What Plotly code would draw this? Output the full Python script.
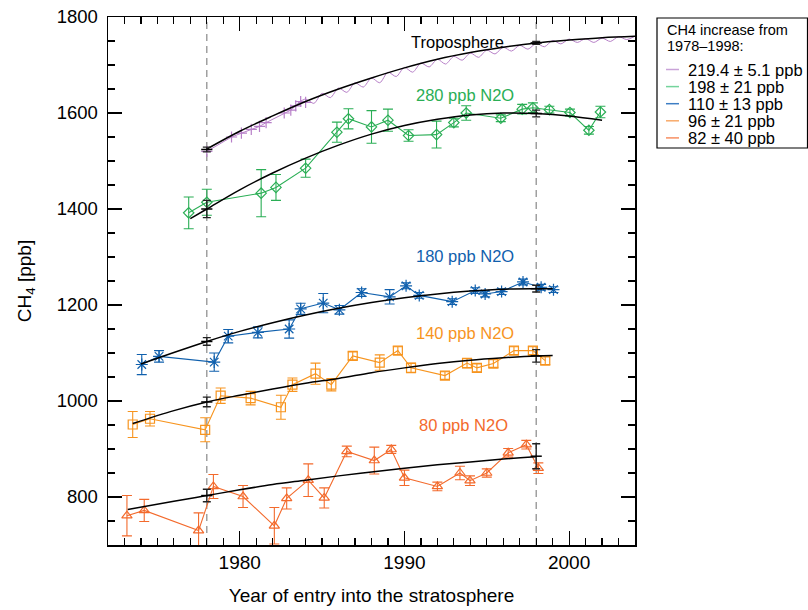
import plotly.graph_objects as go

# ---------------- data ----------------
# Troposphere: early flask points (+) and continuous record
trop_pts_x = [1978.0, 1979.5, 1980.1, 1980.7, 1981.2, 1981.6, 1982.7, 1983.1, 1983.4, 1983.7, 1984.0]
trop_pts_y = [1520, 1550, 1558, 1566, 1572, 1580, 1600, 1606, 1615, 1624, 1622]
trop_x = [1983.5, 1984.0, 1984.5, 1985.0, 1985.5, 1986.0, 1986.5, 1987.0, 1987.5, 1988.0,
          1988.5, 1989.0, 1989.5, 1990.0, 1990.5, 1991.0, 1991.5, 1992.0, 1992.5, 1993.0,
          1993.5, 1994.0, 1994.5, 1995.0, 1995.5, 1996.0, 1996.5, 1997.0, 1997.5, 1998.0,
          1998.5, 1999.0, 1999.5, 2000.0, 2000.5, 2001.0, 2001.5, 2002.0, 2002.5, 2003.0,
          2003.5, 2004.0]
trop_y = [1620, 1629, 1620, 1641, 1632, 1652, 1643, 1663, 1654, 1673,
          1663, 1685, 1676, 1695, 1685, 1704, 1696, 1712, 1702, 1718,
          1710, 1725, 1716, 1731, 1723, 1737, 1729, 1741, 1733, 1745,
          1738, 1751, 1744, 1754, 1747, 1755, 1747, 1756, 1749, 1759,
          1753, 1760]

# 280 ppb N2O
g_x = [1976.9, 1978.0, 1981.3, 1982.2, 1984.0, 1985.9, 1986.6, 1988.0, 1989.0, 1990.25,
       1991.95, 1993.0, 1993.75, 1995.85, 1997.15, 1997.8, 1998.8, 2000.05, 2001.2, 2001.9]
g_y = [1392, 1414, 1433, 1445, 1485, 1560, 1588, 1571, 1585, 1553,
       1555, 1580, 1600, 1589, 1608, 1611, 1607, 1601, 1564, 1602]
g_err = [33, 27, 49, 27, 19, 21, 21, 34, 23, 12, 28, 9, 15, 7, 10, 10, 7, 7, 8, 12]

# 180 ppb N2O
b_x = [1974.05, 1975.1, 1978.45, 1979.3, 1981.1, 1983.0, 1983.7, 1985.07, 1986.05, 1987.4,
       1989.1, 1990.1, 1990.9, 1992.9, 1994.3, 1994.9, 1995.9, 1997.2, 1998.3, 1999.05]
b_y = [1076, 1093, 1081, 1135, 1143, 1150, 1192, 1204, 1190, 1226,
       1217, 1240, 1220, 1207, 1230, 1223, 1228, 1248, 1237, 1232]
b_err = [21, 12, 19, 14, 11.5, 19, 11.5, 20, 9, 8, 15, 6, 6, 6, 6, 6, 6, 6, 6, 6]

# 140 ppb N2O
o_x = [1973.5, 1974.55, 1977.9, 1978.84, 1980.66, 1982.5, 1983.2, 1984.6, 1985.56, 1986.86,
       1988.5, 1989.6, 1990.4, 1992.46, 1993.8, 1994.4, 1995.4, 1996.65, 1997.8, 1998.55]
o_y = [951, 963, 940, 1011, 1006, 987, 1034, 1057, 1034, 1094,
       1080, 1105, 1069, 1053, 1079, 1069, 1078, 1105, 1105, 1084]
o_err = [27, 15, 25, 16, 14, 25, 14, 22, 13, 8, 16, 8, 10, 8, 10, 8, 8, 8, 8, 8]

# 80 ppb N2O
r_x = [1973.15, 1974.2, 1977.5, 1978.4, 1980.2, 1982.1, 1982.85, 1984.16, 1985.13, 1986.5,
       1988.17, 1989.2, 1990.0, 1992.0, 1993.37, 1993.98, 1995.0, 1996.3, 1997.4, 1998.13]
r_y = [761, 772, 730, 822, 801, 740, 797, 835, 798, 895,
       876, 899, 840, 822, 850, 834, 850, 892, 909, 860]
r_err = [42, 23, 37, 25, 23, 38, 22, 34, 21, 11, 28, 8.5, 16, 9, 14, 10, 8.5, 9, 9, 11]

# fitted curves
fit_trop_x = [1978, 1980, 1982, 1984, 1986, 1988, 1990, 1992, 1994, 1996, 1998, 2000, 2002, 2004]
fit_trop_y = [1525, 1562, 1594, 1624, 1650, 1673, 1694, 1712, 1726, 1737, 1746, 1752, 1757, 1760]
fit_g_x = [1977, 1978, 1980, 1982, 1984, 1986, 1988, 1990, 1992, 1994, 1996, 1998, 2000, 2002]
fit_g_y = [1380, 1400, 1440, 1475, 1506, 1533, 1556, 1574, 1587, 1596, 1600, 1599, 1594, 1585]
fit_b_x = [1974, 1976, 1978, 1980, 1982, 1984, 1986, 1988, 1990, 1992, 1994, 1996, 1998, 1999]
fit_b_y = [1077, 1101, 1124, 1145, 1163, 1179, 1193, 1205, 1215, 1223, 1229, 1233, 1234, 1234]
fit_o_x = [1973.5, 1976, 1978, 1980, 1982, 1984, 1986, 1988, 1990, 1992, 1994, 1996, 1998, 1999]
fit_o_y = [953, 980, 998, 1012, 1025, 1037, 1047, 1059, 1069, 1078, 1085, 1090, 1094, 1095]
fit_r_x = [1973.2, 1976, 1978, 1980, 1982, 1984, 1986, 1988, 1990, 1992, 1994, 1996, 1998]
fit_r_y = [774, 791, 803, 815, 826, 835, 844, 852, 860, 867, 873, 879, 884]

# fit values and uncertainties at 1978 and 1998
end_years = [1978, 1998]
end_trop = [1524, 1746]; end_trop_err = [5, 3]
end_g = [1400, 1599]; end_g_err = [18, 7]
end_b = [1124, 1234]; end_b_err = [8, 7]
end_o = [998, 1094]; end_o_err = [10, 13]
end_r = [803, 885]; end_r_err = [13, 26]

legend_title = ["CH4 increase from", "1978\u20131998:"]
legend_labels = ["219.4 \u00b1 5.1 ppb", "198 \u00b1 21 ppb", "110 \u00b1 13 ppb", "96 \u00b1 21 ppb", "82 \u00b1 40 ppb"]
series_labels = ["Troposphere", "280 ppb N2O", "180 ppb N2O", "140 ppb N2O", "80 ppb N2O"]

# ---------------- styles ----------------
FONT = "Liberation Sans, Arial, sans-serif"
C_TROP = "#b77fc8"
C_G = "#2aae55"
C_B = "#1060ad"
C_O = "#f7941e"
C_R = "#f36a2c"
LEG_COLORS = ["#c9a3d8", "#74d49c", "#3d7ec4", "#f8aa6a", "#f78f62"]

L, R, T, B = 108, 173, 17, 65
W, H = 808, 610
PW, PH = W - L - R, H - T - B

fig = go.Figure()


def series(x, y, err, color, symbol, size):
    fig.add_trace(go.Scatter(
        x=x, y=y, mode="lines+markers",
        line=dict(color=color, width=1.1),
        marker=dict(symbol=symbol, size=size, color=color, line=dict(color=color, width=1.2)),
        error_y=dict(type="data", array=err, visible=True, color=color, thickness=1.1, width=5),
        showlegend=False, hoverinfo="skip"))


def fit(x, y):
    fig.add_trace(go.Scatter(x=x, y=y, mode="lines", line=dict(color="black", width=1.5, shape="spline"),
                             showlegend=False, hoverinfo="skip"))


def ends(y, err):
    fig.add_trace(go.Scatter(
        x=end_years, y=y, mode="markers",
        marker=dict(symbol="line-ew-open", size=8, color="black", line=dict(color="black", width=1.5)),
        error_y=dict(type="data", array=err, visible=True, color="#222222", thickness=1.4, width=4),
        showlegend=False, hoverinfo="skip"))


# troposphere
fig.add_trace(go.Scatter(x=trop_x, y=trop_y, mode="lines",
                         line=dict(color=C_TROP, width=1, shape="spline", smoothing=0.8),
                         showlegend=False, hoverinfo="skip"))
fig.add_trace(go.Scatter(x=trop_pts_x, y=trop_pts_y, mode="lines+markers",
                         line=dict(color=C_TROP, width=1),
                         marker=dict(symbol="cross-thin-open", size=8, line=dict(color=C_TROP, width=1.2)),
                         showlegend=False, hoverinfo="skip"))

series(g_x, g_y, g_err, C_G, "diamond-open", 8)
series(b_x, b_y, b_err, C_B, "asterisk-open", 10)
series(o_x, o_y, o_err, C_O, "square-open", 9)
series(r_x, r_y, r_err, C_R, "triangle-up-open", 9)

for fx, fy in [(fit_trop_x, fit_trop_y), (fit_g_x, fit_g_y), (fit_b_x, fit_b_y),
               (fit_o_x, fit_o_y), (fit_r_x, fit_r_y)]:
    fit(fx, fy)

for yy, ee in [(end_trop, end_trop_err), (end_g, end_g_err), (end_b, end_b_err),
               (end_o, end_o_err), (end_r, end_r_err)]:
    ends(yy, ee)

for yr in end_years:
    fig.add_vline(x=yr, line=dict(color="#888888", width=1.2, dash="7px,5px"), layer="below")

# series labels
label_pos = [(1993.2, 1747), (1993.7, 1638), (1993.7, 1303), (1993.7, 1141), (1993.6, 950)]
label_col = ["black", C_G, C_B, C_O, C_R]
for txt, (lx, ly), col in zip(series_labels, label_pos, label_col):
    fig.add_annotation(x=lx, y=ly, text=txt, showarrow=False, xref="x", yref="y",
                       font=dict(family=FONT, size=16.5, color=col))


# legend box (drawn in paper coords)
def px_x(p):
    return (p - L) / float(PW)


def px_y(p):
    return (H - B - p) / float(PH)


fig.add_shape(type="rect", xref="paper", yref="paper",
              x0=px_x(657), x1=px_x(807.5), y0=px_y(148), y1=px_y(18),
              line=dict(color="black", width=1.2), fillcolor="white")
for i, t in enumerate(legend_title):
    fig.add_annotation(x=px_x(665), y=px_y(30 + 16 * i), xref="paper", yref="paper",
                       text=t, showarrow=False, xanchor="left", yanchor="middle",
                       font=dict(family=FONT, size=14.5, color="black"))
for i, (t, c) in enumerate(zip(legend_labels, LEG_COLORS)):
    yc = 69.5 + 17.1 * i
    fig.add_shape(type="line", xref="paper", yref="paper",
                  x0=px_x(666), x1=px_x(679), y0=px_y(yc), y1=px_y(yc),
                  line=dict(color=c, width=1.5))
    fig.add_annotation(x=px_x(686), y=px_y(yc), xref="paper", yref="paper",
                       text=t, showarrow=False, xanchor="left", yanchor="middle",
                       font=dict(family=FONT, size=16.5, color="black"))

axis_common = dict(
    showline=True, linecolor="black", linewidth=1.5, mirror="ticks",
    ticks="inside", ticklen=14, tickwidth=1.2, tickcolor="black",
    showgrid=False, zeroline=False, automargin=False,
)

fig.update_layout(
    width=W, height=H,
    margin=dict(l=L, r=R, t=T, b=B, autoexpand=False),
    paper_bgcolor="white", plot_bgcolor="white",
    font=dict(family=FONT, color="black"),
    showlegend=False,
    xaxis=dict(range=[1972, 2004], tick0=1980, dtick=10,
               minor=dict(dtick=1, ticks="inside", ticklen=7, tickwidth=1.2, tickcolor="black", showgrid=False),
               tickfont=dict(family=FONT, size=19, color="black"),
               title=dict(text="Year of entry into the stratosphere",
                          font=dict(family=FONT, size=19, color="black"), standoff=16),
               **axis_common),
    yaxis=dict(range=[700, 1800], tick0=800, dtick=200,
               minor=dict(dtick=50, ticks="inside", ticklen=7, tickwidth=1.2, tickcolor="black", showgrid=False),
               tickfont=dict(family=FONT, size=18.5, color="black"),
               title=dict(text="CH<sub>4</sub> [ppb]",
                          font=dict(family=FONT, size=19, color="black"), standoff=20),
               ticklabelstandoff=5,
               **axis_common),
)

fig.write_html("out.html", config={"displayModeBar": False, "staticPlot": True},
               post_script="document.body.style.margin='0px';document.body.style.overflow='hidden';")
